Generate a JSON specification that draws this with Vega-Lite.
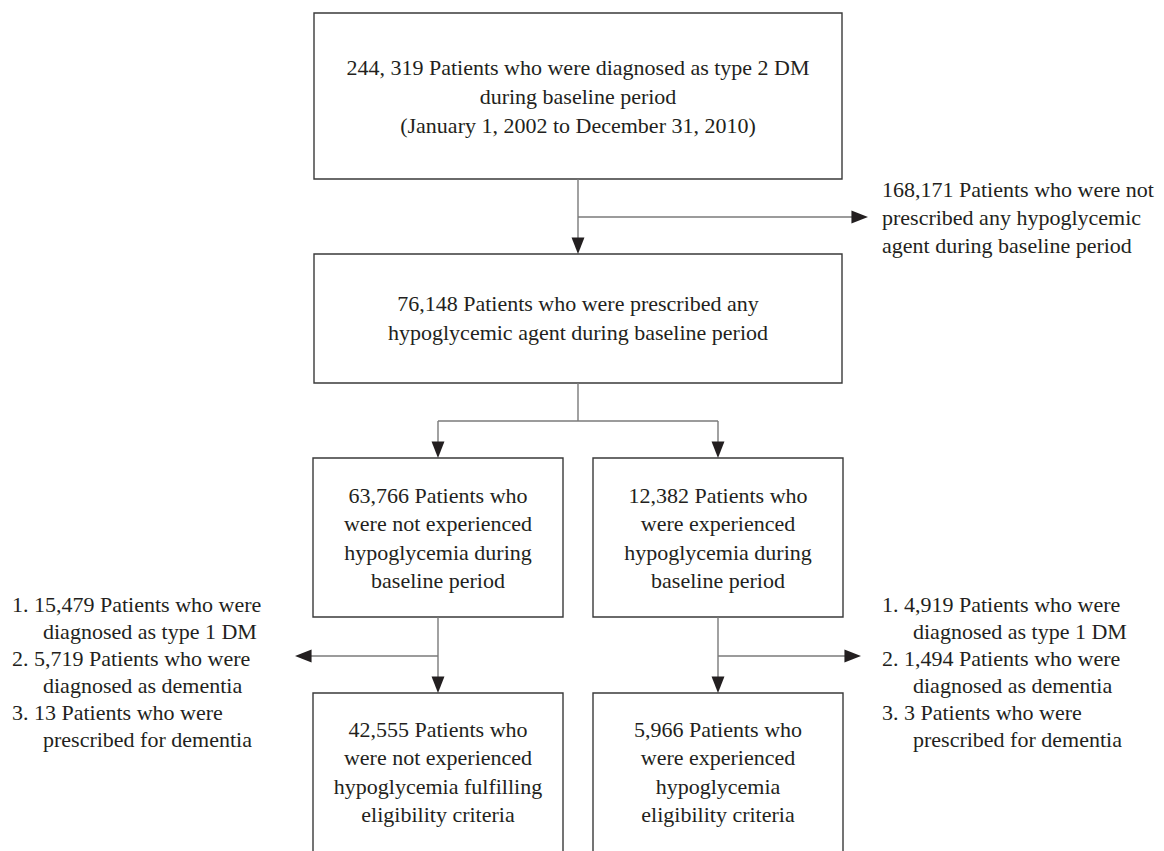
{
  "$schema": "https://vega.github.io/schema/vega-lite/v6.json",
  "width": 1164,
  "height": 851,
  "padding": 0,
  "autosize": {"type": "fit", "contains": "padding"},
  "background": "white",
  "config": {"view": {"stroke": null}},
  "datasets": {
    "boxes": [
      {"id": "top", "x1": 314, "x2": 842, "y1": 13, "y2": 179},
      {"id": "prescribed", "x1": 314, "x2": 842, "y1": 254, "y2": 383},
      {"id": "nohypo", "x1": 313, "x2": 563, "y1": 458, "y2": 617},
      {"id": "hypo", "x1": 593, "x2": 843, "y1": 458, "y2": 617},
      {"id": "nohypo_final", "x1": 313, "x2": 563, "y1": 693, "y2": 880},
      {"id": "hypo_final", "x1": 593, "x2": 843, "y1": 693, "y2": 880}
    ],
    "links": [
      {"x": 578, "y": 179, "x2": 578, "y2": 250},
      {"x": 578, "y": 217, "x2": 862, "y2": 217},
      {"x": 578, "y": 383, "x2": 578, "y2": 421},
      {"x": 438, "y": 421, "x2": 718, "y2": 421},
      {"x": 438, "y": 421, "x2": 438, "y2": 454},
      {"x": 718, "y": 421, "x2": 718, "y2": 454},
      {"x": 438, "y": 617, "x2": 438, "y2": 689},
      {"x": 438, "y": 656, "x2": 300, "y2": 656},
      {"x": 718, "y": 617, "x2": 718, "y2": 689},
      {"x": 718, "y": 656, "x2": 856, "y2": 656}
    ],
    "arrows": [
      {"x": 578, "y": 254, "dir": "down"},
      {"x": 868, "y": 217, "dir": "right"},
      {"x": 438, "y": 458, "dir": "down"},
      {"x": 718, "y": 458, "dir": "down"},
      {"x": 438, "y": 693, "dir": "down"},
      {"x": 718, "y": 693, "dir": "down"},
      {"x": 295, "y": 656, "dir": "left"},
      {"x": 861, "y": 656, "dir": "right"}
    ],
    "labels": [
      {"x": 578, "y": 68, "kind": "center", "text": "244, 319 Patients who were diagnosed as type 2 DM"},
      {"x": 578, "y": 97, "kind": "center", "text": "during baseline period"},
      {"x": 578, "y": 126, "kind": "center", "text": "(January 1, 2002 to December 31, 2010)"},
      {"x": 882, "y": 190, "kind": "side", "text": "168,171 Patients who were not"},
      {"x": 882, "y": 218, "kind": "side", "text": "prescribed any hypoglycemic"},
      {"x": 882, "y": 246, "kind": "side", "text": "agent during baseline period"},
      {"x": 578, "y": 304, "kind": "center", "text": "76,148 Patients who were prescribed any"},
      {"x": 578, "y": 333, "kind": "center", "text": "hypoglycemic agent during baseline period"},
      {"x": 438, "y": 496, "kind": "center", "text": "63,766 Patients who"},
      {"x": 438, "y": 524, "kind": "center", "text": "were not experienced"},
      {"x": 438, "y": 553, "kind": "center", "text": "hypoglycemia during"},
      {"x": 438, "y": 581, "kind": "center", "text": "baseline period"},
      {"x": 718, "y": 496, "kind": "center", "text": "12,382 Patients who"},
      {"x": 718, "y": 524, "kind": "center", "text": "were experienced"},
      {"x": 718, "y": 553, "kind": "center", "text": "hypoglycemia during"},
      {"x": 718, "y": 581, "kind": "center", "text": "baseline period"},
      {"x": 438, "y": 730, "kind": "center", "text": "42,555 Patients who"},
      {"x": 438, "y": 758, "kind": "center", "text": "were not experienced"},
      {"x": 438, "y": 787, "kind": "center", "text": "hypoglycemia fulfilling"},
      {"x": 438, "y": 815, "kind": "center", "text": "eligibility criteria"},
      {"x": 718, "y": 730, "kind": "center", "text": "5,966 Patients who"},
      {"x": 718, "y": 758, "kind": "center", "text": "were experienced"},
      {"x": 718, "y": 787, "kind": "center", "text": "hypoglycemia"},
      {"x": 718, "y": 815, "kind": "center", "text": "eligibility criteria"},
      {"x": 12, "y": 605, "kind": "side", "text": "1. 15,479 Patients who were"},
      {"x": 43, "y": 632, "kind": "side", "text": "diagnosed as type 1 DM"},
      {"x": 12, "y": 659, "kind": "side", "text": "2. 5,719 Patients who were"},
      {"x": 43, "y": 686, "kind": "side", "text": "diagnosed as dementia"},
      {"x": 12, "y": 713, "kind": "side", "text": "3. 13 Patients who were"},
      {"x": 43, "y": 740, "kind": "side", "text": "prescribed for dementia"},
      {"x": 882, "y": 605, "kind": "side", "text": "1. 4,919 Patients who were"},
      {"x": 913, "y": 632, "kind": "side", "text": "diagnosed as type 1 DM"},
      {"x": 882, "y": 659, "kind": "side", "text": "2. 1,494 Patients who were"},
      {"x": 913, "y": 686, "kind": "side", "text": "diagnosed as dementia"},
      {"x": 882, "y": 713, "kind": "side", "text": "3. 3 Patients who were"},
      {"x": 913, "y": 740, "kind": "side", "text": "prescribed for dementia"}
    ]
  },
  "layer": [
    {
      "data": {"name": "boxes"},
      "mark": {"type": "rect", "fill": "white", "stroke": "#3a3a3a", "strokeWidth": 1.4, "clip": true},
      "encoding": {
        "x": {"field": "x1", "type": "quantitative", "scale": {"domain": [0, 1164], "nice": false, "zero": false}, "axis": null},
        "x2": {"field": "x2"},
        "y": {"field": "y1", "type": "quantitative", "scale": {"domain": [0, 851], "reverse": true, "nice": false, "zero": false}, "axis": null},
        "y2": {"field": "y2"}
      }
    },
    {
      "data": {"name": "links"},
      "mark": {"type": "rule", "stroke": "#7a7a7a", "strokeWidth": 1.4},
      "encoding": {
        "x": {"field": "x", "type": "quantitative"},
        "x2": {"field": "x2"},
        "y": {"field": "y", "type": "quantitative"},
        "y2": {"field": "y2"}
      }
    },
    {
      "data": {"name": "arrows"},
      "mark": {"type": "point", "filled": true, "size": 1100, "color": "#231f20", "opacity": 1, "strokeWidth": 0},
      "encoding": {
        "x": {"field": "x", "type": "quantitative"},
        "y": {"field": "y", "type": "quantitative"},
        "shape": {
          "field": "dir",
          "type": "nominal",
          "scale": {
            "domain": ["down", "right", "left"],
            "range": ["M-0.39,-1L0.39,-1L0,0Z", "M-1,-0.39L-1,0.39L0,0Z", "M1,-0.39L1,0.39L0,0Z"]
          },
          "legend": null
        }
      }
    },
    {
      "data": {"name": "labels"},
      "transform": [{"filter": "datum.kind === 'center'"}],
      "mark": {"type": "text", "align": "center", "baseline": "middle", "font": "'Liberation Serif', 'DejaVu Serif', serif", "fontSize": 22, "color": "#231f20"},
      "encoding": {
        "x": {"field": "x", "type": "quantitative"},
        "y": {"field": "y", "type": "quantitative"},
        "text": {"field": "text", "type": "nominal"}
      }
    },
    {
      "data": {"name": "labels"},
      "transform": [{"filter": "datum.kind === 'side'"}],
      "mark": {"type": "text", "align": "left", "baseline": "middle", "font": "'Liberation Serif', 'DejaVu Serif', serif", "fontSize": 22, "color": "#231f20"},
      "encoding": {
        "x": {"field": "x", "type": "quantitative"},
        "y": {"field": "y", "type": "quantitative"},
        "text": {"field": "text", "type": "nominal"}
      }
    }
  ]
}
